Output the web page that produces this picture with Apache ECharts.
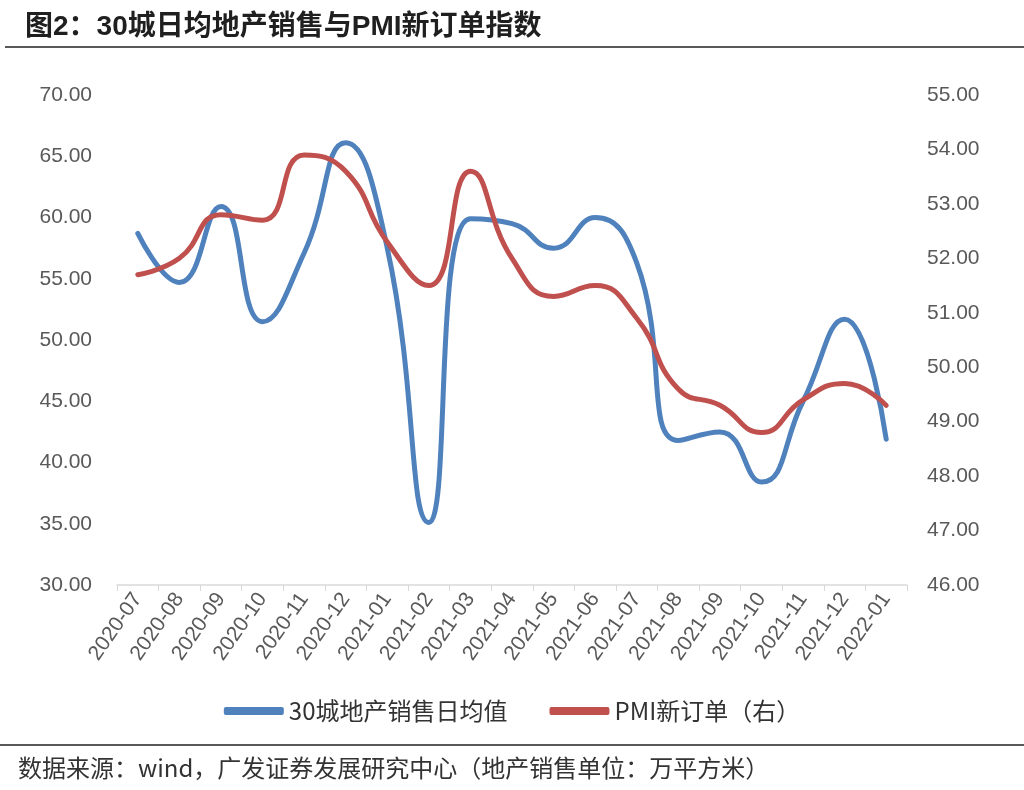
<!DOCTYPE html>
<html><head><meta charset="utf-8">
<script src="https://cdn.jsdelivr.net/npm/echarts@6/dist/echarts.min.js"></script>
<style>html,body{margin:0;padding:0;background:#fff}#c{width:1024px;height:790px}</style>
</head><body><div id="c"></div>
<script>
var categories = ['2020-07','2020-08','2020-09','2020-10','2020-11','2020-12','2021-01','2021-02','2021-03','2021-04','2021-05','2021-06','2021-07','2021-08','2021-09','2021-10','2021-11','2021-12','2022-01'];
var salesAvg = [58.7,54.7,60.9,51.5,57.1,66.1,57.5,35.1,59.9,59.5,57.5,60.0,56.3,41.8,42.5,38.4,45.0,51.7,41.9];
var pmiNewOrders = [51.7,52.0,52.8,52.7,53.9,53.6,52.3,51.5,53.6,52.0,51.3,51.5,50.9,49.6,49.3,48.8,49.4,49.7,49.3];
var leftTicks = {min:30, max:70, interval:5};
var rightTicks = {min:46, max:55, interval:1};

var chart = echarts.init(document.getElementById('c'));
var lab = {color:'#595959', fontSize:21, fontFamily:'Liberation Sans, Arial, sans-serif'};
chart.setOption({
  animation:false,
  backgroundColor:'#fff',
  title:{text:'图2：30城日均地产销售与PMI新订单指数', left:20, top:8,
    textStyle:{fontSize:28, fontWeight:'bold', color:'#1f1f1f', fontFamily:'Liberation Sans, Noto Sans CJK SC, sans-serif'}},
  graphic:[
    {type:'line', shape:{x1:5,y1:47,x2:1024,y2:47}, style:{stroke:'#222', lineWidth:1.5}},
    {type:'line', shape:{x1:0,y1:745,x2:1024,y2:745}, style:{stroke:'#222', lineWidth:1.5}},
    {type:'text', left:18, top:756, style:{text:'数据来源：wind，广发证券发展研究中心（地产销售单位：万平方米）', fontSize:24, fill:'#333', fontFamily:'Noto Sans CJK SC, sans-serif'}}
  ],
  grid:{left:117, right:117, top:95, bottom:205},
  legend:{bottom:62, left:'center', itemWidth:60, itemHeight:8, itemGap:42,
    textStyle:{fontSize:24, color:'#333', fontFamily:'Noto Sans CJK SC, sans-serif'},
    data:[{name:'30城地产销售日均值', icon:'roundRect'},{name:'PMI新订单（右）', icon:'roundRect'}]},
  xAxis:{type:'category', data:categories, boundaryGap:true,
    axisLine:{lineStyle:{color:'#d9d9d9', width:1.5}},
    axisTick:{show:true, length:6, lineStyle:{color:'#d9d9d9'}},
    axisLabel:Object.assign({rotate:55, interval:0, margin:10}, lab)},
  yAxis:[
    {type:'value', min:leftTicks.min, max:leftTicks.max, interval:leftTicks.interval,
     axisLine:{show:false}, axisTick:{show:false}, splitLine:{show:false},
     axisLabel:Object.assign({margin:25, formatter:function(v){return v.toFixed(2);}}, lab)},
    {type:'value', min:rightTicks.min, max:rightTicks.max, interval:rightTicks.interval,
     axisLine:{show:false}, axisTick:{show:false}, splitLine:{show:false},
     axisLabel:Object.assign({margin:20, formatter:function(v){return v.toFixed(2);}}, lab)}
  ],
  series:[
    {name:'30城地产销售日均值', type:'line', data:salesAvg, yAxisIndex:0, smooth:0.5, symbol:'none',
     itemStyle:{color:'#4f81bd'}, lineStyle:{color:'#4f81bd', width:5, cap:'round'}},
    {name:'PMI新订单（右）', type:'line', data:pmiNewOrders, yAxisIndex:1, smooth:0.5, symbol:'none',
     itemStyle:{color:'#c0504d'}, lineStyle:{color:'#c0504d', width:5, cap:'round'}}
  ]
});
</script></body></html>
